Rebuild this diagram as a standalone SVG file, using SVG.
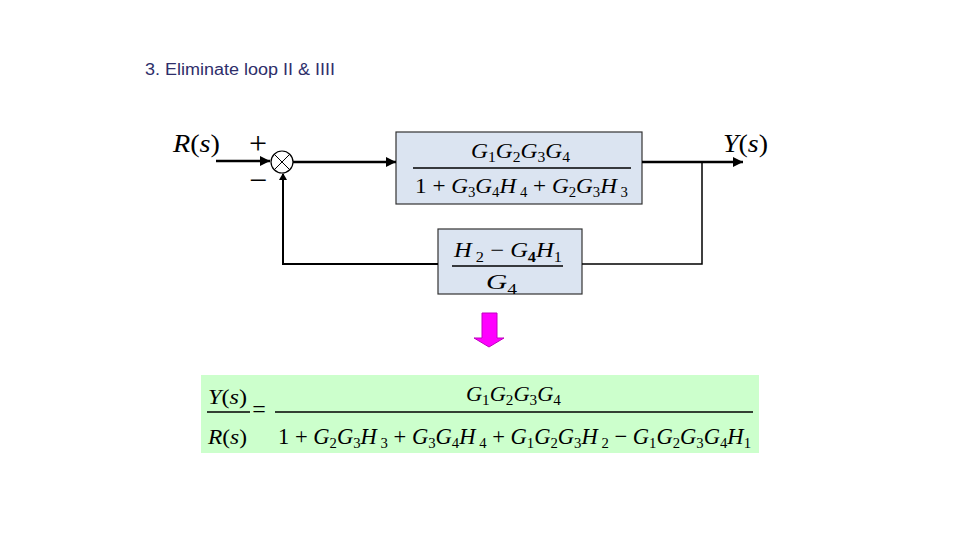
<svg xmlns="http://www.w3.org/2000/svg" width="960" height="540" viewBox="0 0 960 540">
<style>
.title{font-family:"Liberation Sans",Arial,sans-serif;font-size:16px;fill:#2E2E6A}
.m{font-family:"Liberation Serif","Times New Roman",serif;fill:#000}
.i{font-style:italic}
.box{fill:#DBE4F1;stroke:#333;stroke-width:1.2}
.thick{stroke:#000;stroke-width:2.5;fill:none}
.thin{stroke:#000;stroke-width:1.5;fill:none}
.frac{stroke:#000;stroke-width:1.3}
</style>
<defs>
<marker id="ah" viewBox="0 0 10 10" refX="10" refY="5" markerWidth="4" markerHeight="4" orient="auto" markerUnits="strokeWidth">
<path d="M0,0 L10,5 L0,10 z" fill="#000"/>
</marker>
</defs>
<rect width="960" height="540" fill="#fff"/>
<text class="title" x="145" y="75" textLength="190" lengthAdjust="spacingAndGlyphs">3. Eliminate loop II &amp; IIII</text>

<g id="labels">
<text class="m" x="173" y="152" font-size="25" textLength="47" lengthAdjust="spacingAndGlyphs"><tspan class="i">R</tspan>(<tspan class="i">s</tspan>)</text>
<text class="m" x="723" y="152" font-size="25" textLength="45" lengthAdjust="spacingAndGlyphs"><tspan class="i">Y</tspan>(<tspan class="i">s</tspan>)</text>
<text class="m" x="258" y="154" font-size="32" text-anchor="middle">+</text>
<text class="m" x="258" y="191" font-size="32" text-anchor="middle">−</text>
</g>

<g id="sum">
<circle cx="282" cy="162" r="11" fill="#fff" stroke="#000" stroke-width="1.2"/>
<line x1="274.2" y1="154.2" x2="289.8" y2="169.8" stroke="#000" stroke-width="1"/>
<line x1="289.8" y1="154.2" x2="274.2" y2="169.8" stroke="#000" stroke-width="1"/>
</g>

<g id="forward">
<rect class="box" x="396" y="132" width="246" height="72"/>
<text class="m" x="471" y="158" font-size="21" textLength="99" lengthAdjust="spacingAndGlyphs"><tspan class="i">G</tspan><tspan font-size="14" dy="4">1</tspan><tspan class="i" dy="-4">G</tspan><tspan font-size="14" dy="4">2</tspan><tspan class="i" dy="-4">G</tspan><tspan font-size="14" dy="4">3</tspan><tspan class="i" dy="-4">G</tspan><tspan font-size="14" dy="4">4</tspan></text>
<line class="frac" x1="413" y1="168" x2="631" y2="168"/>
<text class="m" x="415" y="193" font-size="22" textLength="213" lengthAdjust="spacingAndGlyphs">1 + <tspan class="i">G</tspan><tspan font-size="14" dy="4">3</tspan><tspan class="i" dy="-4">G</tspan><tspan font-size="14" dy="4">4</tspan><tspan class="i" dy="-4">H</tspan><tspan font-size="14" dy="4"> 4</tspan><tspan dy="-4"> + </tspan><tspan class="i">G</tspan><tspan font-size="14" dy="4">2</tspan><tspan class="i" dy="-4">G</tspan><tspan font-size="14" dy="4">3</tspan><tspan class="i" dy="-4">H</tspan><tspan font-size="14" dy="4"> 3</tspan></text>
</g>

<g id="feedback">
<rect class="box" x="438" y="229" width="144" height="65"/>
<text class="m" x="454" y="257" font-size="21" textLength="108" lengthAdjust="spacingAndGlyphs"><tspan class="i">H</tspan><tspan font-size="14" dy="5"> 2</tspan><tspan dy="-5"> − </tspan><tspan class="i">G</tspan><tspan font-size="14" font-weight="bold" dy="5">4</tspan><tspan class="i" dy="-5">H</tspan><tspan font-size="14" dy="5">1</tspan></text>
<line class="frac" x1="452" y1="266" x2="563" y2="266"/>
<text class="m" x="486" y="289" font-size="21" textLength="31" lengthAdjust="spacingAndGlyphs"><tspan class="i">G</tspan><tspan font-size="14" dy="5">4</tspan></text>
</g>

<g id="connectors">
<line class="thick" x1="216" y1="161" x2="270" y2="161" marker-end="url(#ah)"/>
<line class="thick" x1="293" y1="162" x2="396" y2="162" marker-end="url(#ah)"/>
<line class="thick" x1="642" y1="162" x2="743" y2="162" marker-end="url(#ah)"/>
<polyline class="thin" points="702,162 702,264 582,264"/>
<polyline class="thick" points="438,264 283,264 283,174" style="stroke-width:2"/>
<path d="M283,173 L279,180 L287,180 z" fill="#000"/>
</g>

<g id="down-arrow">
<polygon points="482,313 497,313 497,338 504,338 489,347 474,338 482,338" fill="#FF00FF" stroke="#C000C0" stroke-width="1"/>
</g>

<g id="result">
<rect x="201" y="375" width="558" height="78" fill="#CCFFCC"/>
<text class="m" x="208" y="404" font-size="22" textLength="39" lengthAdjust="spacingAndGlyphs"><tspan class="i">Y</tspan>(<tspan class="i">s</tspan>)</text>
<line class="frac" x1="207" y1="412" x2="250" y2="412"/>
<text class="m" x="208" y="444" font-size="22" textLength="39" lengthAdjust="spacingAndGlyphs"><tspan class="i">R</tspan>(<tspan class="i">s</tspan>)</text>
<text class="m" x="259" y="417" font-size="24" text-anchor="middle">=</text>
<line class="frac" x1="275" y1="412" x2="753" y2="412"/>
<text class="m" x="466" y="401" font-size="22" textLength="95" lengthAdjust="spacingAndGlyphs"><tspan class="i">G</tspan><tspan font-size="15" dy="4">1</tspan><tspan class="i" dy="-4">G</tspan><tspan font-size="15" dy="4">2</tspan><tspan class="i" dy="-4">G</tspan><tspan font-size="15" dy="4">3</tspan><tspan class="i" dy="-4">G</tspan><tspan font-size="15" dy="4">4</tspan></text>
<text class="m" x="278" y="444" font-size="23" textLength="473" lengthAdjust="spacingAndGlyphs">1 + <tspan class="i">G</tspan><tspan font-size="15" dy="4">2</tspan><tspan class="i" dy="-4">G</tspan><tspan font-size="15" dy="4">3</tspan><tspan class="i" dy="-4">H</tspan><tspan font-size="15" dy="4"> 3</tspan><tspan dy="-4"> + </tspan><tspan class="i">G</tspan><tspan font-size="15" dy="4">3</tspan><tspan class="i" dy="-4">G</tspan><tspan font-size="15" dy="4">4</tspan><tspan class="i" dy="-4">H</tspan><tspan font-size="15" dy="4"> 4</tspan><tspan dy="-4"> + </tspan><tspan class="i">G</tspan><tspan font-size="15" dy="4">1</tspan><tspan class="i" dy="-4">G</tspan><tspan font-size="15" dy="4">2</tspan><tspan class="i" dy="-4">G</tspan><tspan font-size="15" dy="4">3</tspan><tspan class="i" dy="-4">H</tspan><tspan font-size="15" dy="4"> 2</tspan><tspan dy="-4"> − </tspan><tspan class="i">G</tspan><tspan font-size="15" dy="4">1</tspan><tspan class="i" dy="-4">G</tspan><tspan font-size="15" dy="4">2</tspan><tspan class="i" dy="-4">G</tspan><tspan font-size="15" dy="4">3</tspan><tspan class="i" dy="-4">G</tspan><tspan font-size="15" dy="4">4</tspan><tspan class="i" dy="-4">H</tspan><tspan font-size="15" dy="4">1</tspan></text>
</g>
</svg>
